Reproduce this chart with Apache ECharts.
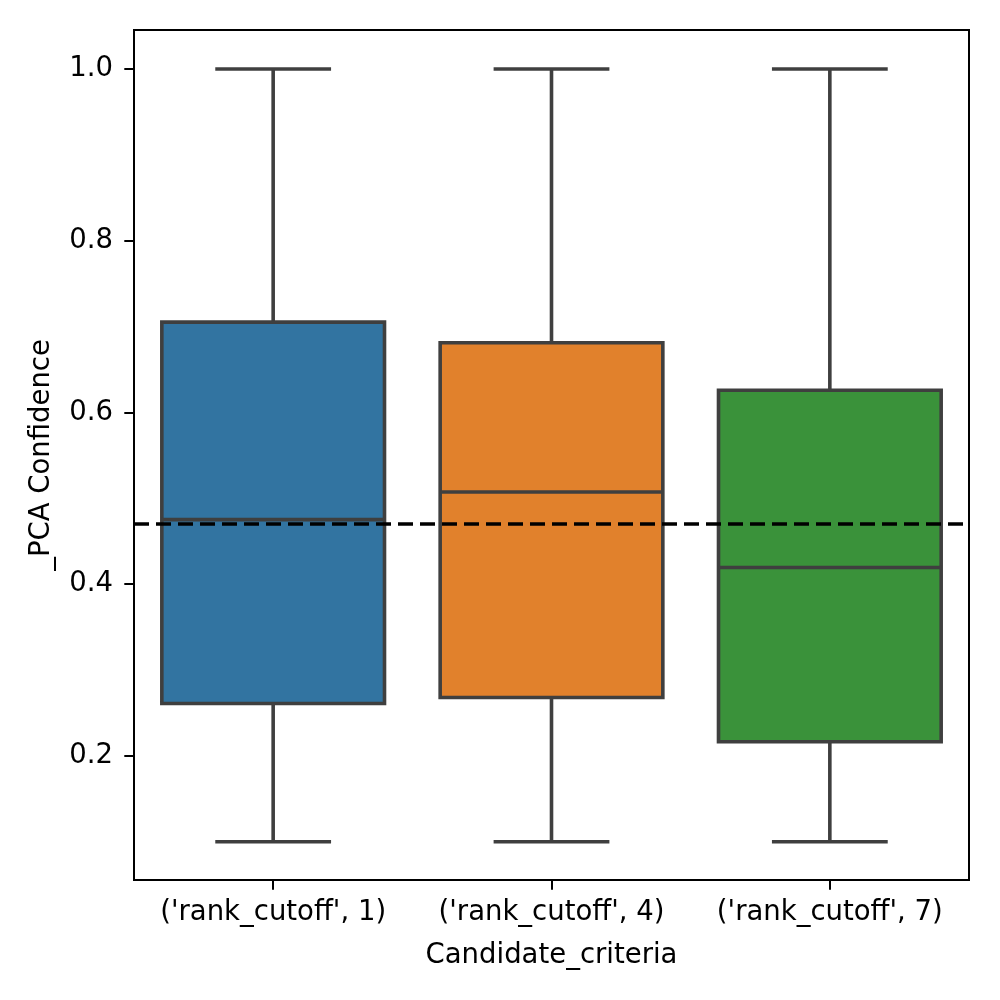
<!DOCTYPE html>
<html><head><meta charset="utf-8">
<script src="https://cdn.jsdelivr.net/npm/echarts@6/dist/echarts.min.js"></script>
<style>html,body{margin:0;padding:0;background:#fff}#c{width:1000px;height:1000px}</style>
</head><body><div id="c"></div>
<script>
const categories = ["('rank_cutoff', 1)", "('rank_cutoff', 4)", "('rank_cutoff', 7)"];
const whiskerLow = [0.10, 0.10, 0.10];
const q1 = [0.261, 0.268, 0.2165];
const median = [0.4752, 0.5074, 0.4194];
const q3 = [0.7053, 0.6813, 0.626];
const whiskerHigh = [1.0, 1.0, 1.0];
const referenceLine = 0.4725;
const yTicks = [0.2, 0.4, 0.6, 0.8, 1.0];
const boxColors = ['#3274a1', '#e1812c', '#3a923a'];

const data = categories.map((c, i) => [i, whiskerLow[i], q1[i], median[i], q3[i], whiskerHigh[i]]);
const edge = '#3f3f3f';
const font = 'DejaVu Sans';
const fs = 27.5;

const chart = echarts.init(document.getElementById('c'), null, {renderer: 'canvas'});
chart.setOption({
  animation: false,
  backgroundColor: '#fff',
  grid: {left: 134, right: 31, top: 30, bottom: 120, show: true, borderColor: '#000', borderWidth: 2, backgroundColor: 'transparent'},
  xAxis: {
    type: 'category', data: categories, boundaryGap: true,
    axisLine: {show: true, lineStyle: {color: '#000', width: 2}},
    axisTick: {show: true, alignWithLabel: true, interval: 0, length: 9.7, lineStyle: {color: '#000', width: 2}},
    axisLabel: {color: '#000', fontFamily: font, fontSize: fs, margin: 19, interval: 0, hideOverlap: false},
    name: 'Candidate_criteria', nameLocation: 'middle', nameGap: 62,
    nameTextStyle: {color: '#000', fontFamily: font, fontSize: fs},
    splitLine: {show: false}
  },
  yAxis: {
    type: 'value', min: 0.0555, max: 1.0455,
    axisLine: {show: true, lineStyle: {color: '#000', width: 2}},
    axisTick: {show: true, length: 9.7, customValues: yTicks, lineStyle: {color: '#000', width: 2}},
    axisLabel: {color: '#000', fontFamily: font, fontSize: fs, margin: 21, customValues: yTicks,
      formatter: v => v.toFixed(1)},
    splitLine: {show: false},
    name: '_PCA Confidence', nameLocation: 'middle', nameGap: 78,
    nameTextStyle: {color: '#000', fontFamily: font, fontSize: fs}
  },
  series: [{
    type: 'custom',
    data: data,
    encode: {x: 0, y: [1, 2, 3, 4, 5]},
    renderItem: function (params, api) {
      const i = api.value(0);
      const pLow = api.coord([i, api.value(1)]);
      const pQ1 = api.coord([i, api.value(2)]);
      const pMed = api.coord([i, api.value(3)]);
      const pQ3 = api.coord([i, api.value(4)]);
      const pHigh = api.coord([i, api.value(5)]);
      const band = api.size([1, 0])[0];
      const bw = band * 0.8;
      const cw = bw * 0.52;
      const x = pMed[0];
      const ls = {stroke: edge, lineWidth: 3.6, fill: null};
      return {
        type: 'group',
        children: [
          {type: 'line', shape: {x1: x, y1: pLow[1], x2: x, y2: pQ1[1]}, style: ls},
          {type: 'line', shape: {x1: x, y1: pQ3[1], x2: x, y2: pHigh[1]}, style: ls},
          {type: 'line', shape: {x1: x - cw / 2, y1: pLow[1], x2: x + cw / 2, y2: pLow[1]}, style: ls},
          {type: 'line', shape: {x1: x - cw / 2, y1: pHigh[1], x2: x + cw / 2, y2: pHigh[1]}, style: ls},
          {type: 'rect', shape: {x: x - bw / 2, y: pQ3[1], width: bw, height: pQ1[1] - pQ3[1]},
            style: {fill: boxColors[i], stroke: edge, lineWidth: 3.6}},
          {type: 'line', shape: {x1: x - bw / 2, y1: pMed[1], x2: x + bw / 2, y2: pMed[1]}, style: ls}
        ]
      };
    },
    z: 2
  }, {
    type: 'line', data: [], z: 5,
    markLine: {
      silent: true, symbol: ['none', 'none'], label: {show: false},
      lineStyle: {color: '#000', width: 3.5, type: [15, 7]},
      data: [{yAxis: referenceLine}]
    }
  }]
});
</script></body></html>
